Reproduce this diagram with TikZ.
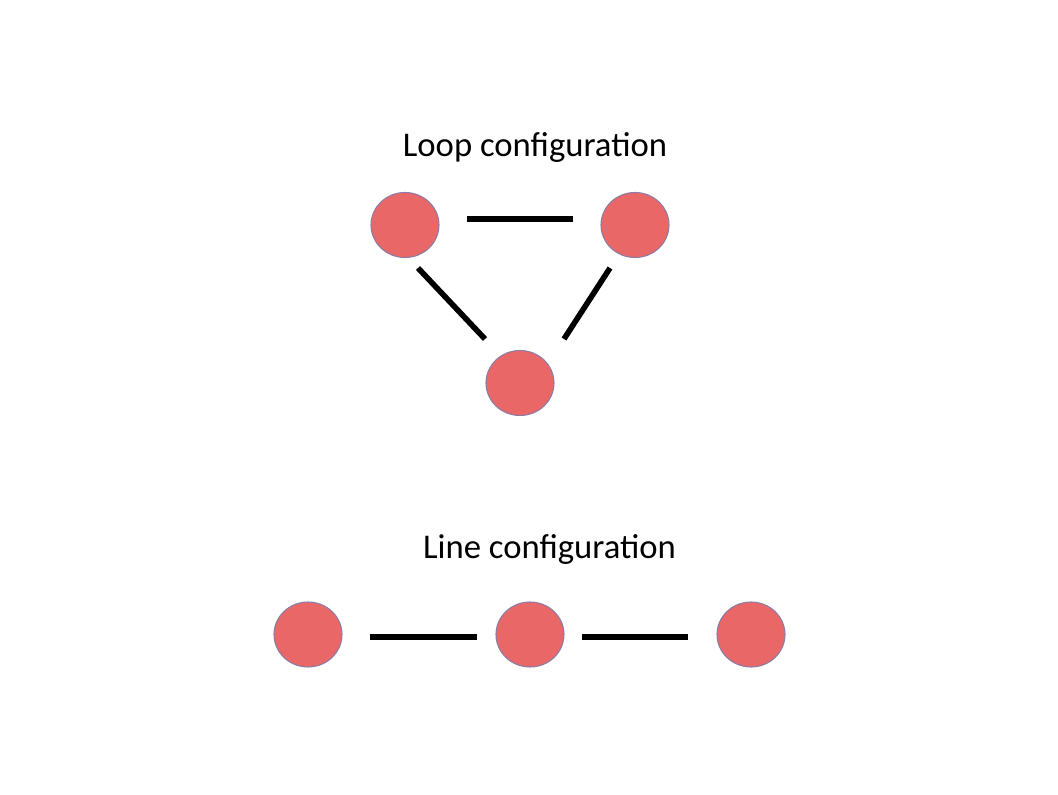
\documentclass[tikz,border=0pt]{standalone}
\usepackage{fontspec}
\setmainfont{Carlito}
\usepackage{xcolor}
\usetikzlibrary{shapes.geometric, calc}
\definecolor{dotRed}{HTML}{E96767}
\definecolor{dotRim}{HTML}{8C7CA6}

\begin{document}
\begin{tikzpicture}[
  x=0.75pt, y=0.75pt,
  font=\fontsize{26}{31}\selectfont,
  dotNode/.style={ellipse, draw=dotRim, line width=0.8pt, fill=dotRed, inner sep=0pt, minimum width=51pt, minimum height=48.75pt},
  titleNode/.style={anchor=base, inner sep=0pt},
  bondLine/.style={draw, line width=4.2pt, black}
]
  \useasboundingbox (0,0) rectangle (1058,794);

  % loop
  \node [titleNode] (loopTitle) at (535,637) {Loop configuration};
  \node [dotNode] (loopLeft) at (405,569) {};
  \node [dotNode] (loopRight) at (635,569) {};
  \node [dotNode] (loopBottom) at (520,411) {};

  \draw [bondLine] ([shift={(62,6)}]loopLeft.center) -- ([shift={(-62,6)}]loopRight.center);
  \draw [bondLine] ([shift={(13,-43)}]loopLeft.center) -- ([shift={(-35,44)}]loopBottom.center);
  \draw [bondLine] ([shift={(-25,-43)}]loopRight.center) -- ([shift={(44,44)}]loopBottom.center);

  % line
  \node [titleNode] (lineTitle) at (549.5,236) {Line configuration};
  \node [dotNode] (lineA) at (308,159.5) {};
  \node [dotNode] (lineB) at (530,159.5) {};
  \node [dotNode] (lineC) at (751,159.5) {};

  \draw [bondLine] ([shift={(62,-2.5)}]lineA.center) -- ([shift={(-53,-2.5)}]lineB.center);
  \draw [bondLine] ([shift={(52,-2.5)}]lineB.center) -- ([shift={(-63,-2.5)}]lineC.center);
\end{tikzpicture}
\end{document}
